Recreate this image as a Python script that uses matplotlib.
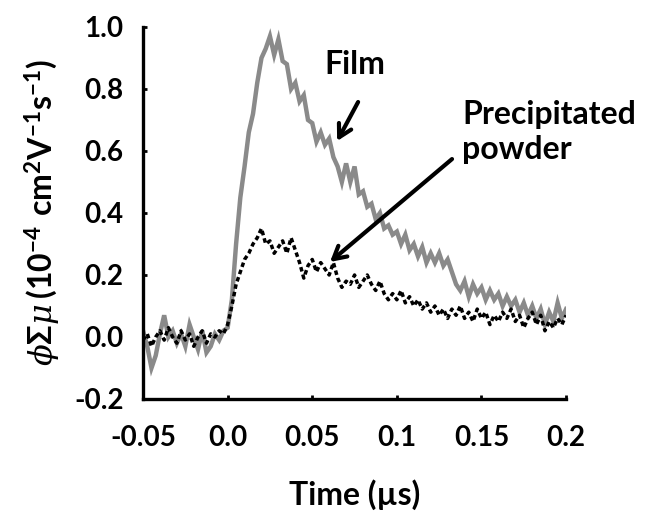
import numpy as np
import matplotlib
matplotlib.use("Agg")
import matplotlib.pyplot as plt

# time axis (us), sampled every 2.5 ns
time_us = np.round(np.arange(-0.05, 0.2001, 0.0025), 4)

# values (10^-4 cm2 V-1 s-1)
film = [0.02, -0.03, -0.10, -0.06, 0.01, 0.07, 0.00, 0.02, -0.02, 0.01,
        -0.03, 0.04, 0.00, -0.04, 0.02, -0.05, -0.03, 0.01, -0.01, 0.02,
        0.03, 0.12, 0.30, 0.45, 0.55, 0.66, 0.72, 0.82, 0.90, 0.93,
        0.97, 0.91, 0.96, 0.89, 0.88, 0.80, 0.82, 0.76, 0.78, 0.70,
        0.69, 0.63, 0.66, 0.62, 0.64, 0.58, 0.55, 0.50, 0.56, 0.50,
        0.55, 0.46, 0.47, 0.42, 0.43, 0.38, 0.40, 0.35, 0.36, 0.33,
        0.34, 0.30, 0.33, 0.28, 0.30, 0.26, 0.29, 0.24, 0.27, 0.24,
        0.27, 0.23, 0.25, 0.21, 0.17, 0.15, 0.18, 0.13, 0.17, 0.14,
        0.16, 0.12, 0.15, 0.12, 0.14, 0.10, 0.13, 0.10, 0.12, 0.08,
        0.11, 0.07, 0.10, 0.06, 0.09, 0.04, 0.08, 0.05, 0.11, 0.06,
        0.09]
powder = [-0.01, 0.01, -0.03, 0.00, 0.02, -0.01, 0.03, 0.00, -0.02, 0.02,
          -0.01, 0.01, -0.03, 0.00, 0.02, -0.02, 0.01, 0.00, 0.02, 0.01,
          0.04, 0.10, 0.17, 0.21, 0.25, 0.27, 0.30, 0.32, 0.35, 0.30,
          0.31, 0.27, 0.29, 0.31, 0.27, 0.32, 0.28, 0.24, 0.19, 0.23,
          0.25, 0.21, 0.24, 0.22, 0.20, 0.24, 0.19, 0.16, 0.18, 0.17,
          0.20, 0.16, 0.18, 0.20, 0.17, 0.15, 0.18, 0.14, 0.12, 0.14,
          0.12, 0.15, 0.11, 0.13, 0.10, 0.12, 0.09, 0.11, 0.08, 0.10,
          0.07, 0.09, 0.06, 0.09, 0.07, 0.10, 0.06, 0.08, 0.05, 0.09,
          0.06, 0.08, 0.04, 0.07, 0.05, 0.08, 0.06, 0.09, 0.05, 0.07,
          0.03, 0.06, 0.08, 0.04, 0.07, 0.02, 0.05, 0.03, 0.06, 0.04,
          0.07]

xticks = [-0.05, 0.0, 0.05, 0.1, 0.15, 0.2]
xticklabels = ["-0.05", "0.0", "0.05", "0.1", "0.15", "0.2"]
yticks = [-0.2, 0.0, 0.2, 0.4, 0.6, 0.8, 1.0]
yticklabels = ["-0.2", "0.0", "0.2", "0.4", "0.6", "0.8", "1.0"]

plt.rcParams['font.family'] = ['Lato', 'DejaVu Sans']
plt.rcParams['font.weight'] = 'bold'
plt.rcParams['mathtext.fontset'] = 'custom'
plt.rcParams['mathtext.rm'] = 'Lato:bold'
plt.rcParams['mathtext.it'] = 'DejaVu Serif:italic:weight=normal'

fig = plt.figure(figsize=(6.6, 5.21), dpi=100)
ax = fig.add_axes([0.2167, 0.2342, 0.641, 0.714])

ax.plot(time_us, film, color='#8a8a8a', lw=3.2, solid_joinstyle='miter')
ax.plot(time_us, powder, color='black', lw=2.5, linestyle=(0, (1.3, 0.9)))

ax.set_xlim(-0.05, 0.2)
ax.set_ylim(-0.2, 1.0)
ax.set_xticks(xticks)
ax.set_xticklabels(xticklabels)
ax.set_yticks(yticks)
ax.set_yticklabels(yticklabels)
ax.tick_params(direction='in', length=3, width=2, labelsize=20)
ax.tick_params(axis='x', pad=19)
ax.tick_params(axis='y', pad=14)

for s in ['top', 'right']:
    ax.spines[s].set_visible(False)
for s in ['left', 'bottom']:
    ax.spines[s].set_linewidth(2.4)

ax.set_xlabel('Time (\u00b5s)', fontsize=23, fontweight='bold', labelpad=20)
ax.set_ylabel(r'$\phi\mathit{\Sigma}\mu\,\mathrm{(10^{-4}\ cm^{2}V^{-1}s^{-1})}$',
              fontsize=23, labelpad=8)

arrow = dict(arrowstyle='->,head_length=0.9,head_width=0.5', color='black', lw=3,
             shrinkA=0, shrinkB=0)
ax.annotate('', xy=(0.0647, 0.632), xytext=(0.0771, 0.758), arrowprops=arrow)
ax.annotate('', xy=(0.0605, 0.242), xytext=(0.1326, 0.574), arrowprops=arrow)
ax.text(0.0753, 0.88, 'Film', fontsize=23, fontweight='bold', ha='center', va='center')
ax.text(0.1385, 0.765, 'Precipitated\npowder', fontsize=23, fontweight='bold',
        ha='left', va='top', linespacing=1.25)

fig.savefig('out.png', dpi=100)
